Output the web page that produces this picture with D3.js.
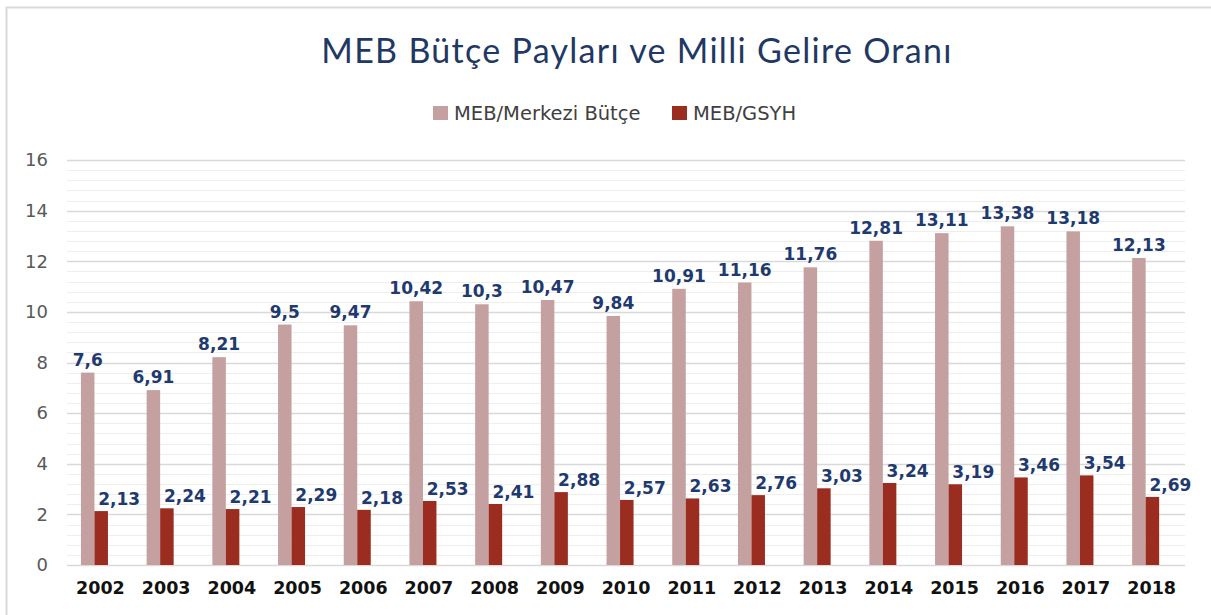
<!DOCTYPE html>
<html>
<head>
<meta charset="utf-8">
<script src="https://cdn.jsdelivr.net/npm/d3@7"></script>
<style>
  html, body { margin: 0; padding: 0; background: #fff; }
  svg { display: block; }
</style>
</head>
<body>
<svg id="chart" width="1211" height="615"></svg>
<script>
// --- data
const years = ["2002","2003","2004","2005","2006","2007","2008","2009","2010","2011","2012","2013","2014","2015","2016","2017","2018"];
const butce = [7.6, 6.91, 8.21, 9.5, 9.47, 10.42, 10.3, 10.47, 9.84, 10.91, 11.16, 11.76, 12.81, 13.11, 13.38, 13.18, 12.13];
const gsyh  = [2.13, 2.24, 2.21, 2.29, 2.18, 2.53, 2.41, 2.88, 2.57, 2.63, 2.76, 3.03, 3.24, 3.19, 3.46, 3.54, 2.69];
const seriesNames = ["MEB/Merkezi Bütçe", "MEB/GSYH"];
const yTicks = [0, 2, 4, 6, 8, 10, 12, 14, 16];

const COL_PINK = "#c5a0a0", COL_RED = "#9b2c20", COL_LBL = "#1f3a6e";
const fmt = v => String(v).replace(".", ",");

const svg = d3.select("#chart");

// outer chart border (left + top only visible)
svg.append("path").attr("d", "M6.5,615 V7.5 H1211").attr("fill", "none")
  .attr("stroke", "#d9d9d9").attr("stroke-width", 2);

// title + legend
svg.append("text").attr("x", 637).attr("y", 63).attr("text-anchor", "middle")
  .style("font-family", "Lato, 'Open Sans', sans-serif").style("font-size", "34px")
  .style("letter-spacing", "1.3px")
  .attr("fill", "#1f3864").text("MEB Bütçe Payları ve Milli Gelire Oranı");

const legend = svg.append("g").style("font-family", "'DejaVu Sans', sans-serif").style("font-size", "19.5px");
[[433, COL_PINK, seriesNames[0]], [672, COL_RED, seriesNames[1]]].forEach(([lx, c, t]) => {
  legend.append("rect").attr("x", lx).attr("y", 106).attr("width", 15).attr("height", 14).attr("fill", c);
  legend.append("text").attr("x", lx + 21).attr("y", 120).attr("fill", "#404040").text(t);
});

// scales
const y = d3.scaleLinear().domain([0, 16]).range([565, 160]);
const x = d3.scaleBand().domain(years).range([61.6, 1178.5]);
const gx0 = 67, gx1 = 1185, bw = 13.5;

// gridlines: minor every 0.4, major every 2
const grid = svg.append("g");
d3.range(0, 16.001, 0.4).forEach(v => {
  const major = Math.abs(v / 2 - Math.round(v / 2)) < 1e-6;
  grid.append("line").attr("x1", gx0).attr("x2", gx1)
    .attr("y1", Math.round(y(v)) + 0.5).attr("y2", Math.round(y(v)) + 0.5)
    .attr("stroke", major ? "#d9d9d9" : "#eeeeee").attr("stroke-width", major ? 1.5 : 1);
});

// y axis
const yAxis = svg.append("g").attr("transform", "translate(50,0)")
  .call(d3.axisLeft(y).tickValues(yTicks).tickSize(0).tickPadding(2));
yAxis.select(".domain").remove();
yAxis.selectAll("text").style("font-family", "'DejaVu Sans', sans-serif").style("font-size", "18px").attr("fill", "#595959");

// x axis labels
const xAxis = svg.append("g").attr("transform", "translate(6,582)")
  .call(d3.axisBottom(x).tickSize(0).tickPadding(0));
xAxis.select(".domain").remove();
xAxis.selectAll("text").style("font-family", "'DejaVu Sans', sans-serif").style("font-size", "17.5px")
  .style("font-weight", "bold").attr("fill", "#111").attr("dy", "0.71em");

// bars
const cx = d => x(d) + x.bandwidth() / 2;
svg.append("g").selectAll("rect").data(years).join("rect")
  .attr("x", d => cx(d) - bw).attr("width", bw)
  .attr("y", (d, i) => y(butce[i])).attr("height", (d, i) => y(0) - y(butce[i]))
  .attr("fill", COL_PINK);
svg.append("g").selectAll("rect").data(years).join("rect")
  .attr("x", d => cx(d)).attr("width", bw)
  .attr("y", (d, i) => y(gsyh[i])).attr("height", (d, i) => y(0) - y(gsyh[i]))
  .attr("fill", COL_RED);

// data labels
const lbl = svg.append("g").style("font-family", "'DejaVu Sans', sans-serif").style("font-size", "17px")
  .style("font-weight", "bold").attr("fill", COL_LBL).attr("text-anchor", "middle");
years.forEach((d, i) => {
  lbl.append("text").attr("x", cx(d) - bw / 2).attr("y", y(butce[i]) - 7).text(fmt(butce[i]));
  lbl.append("text").attr("x", cx(d) + bw / 2 + 18).attr("y", y(gsyh[i]) - 6).text(fmt(gsyh[i]));
});
</script>
</body>
</html>
